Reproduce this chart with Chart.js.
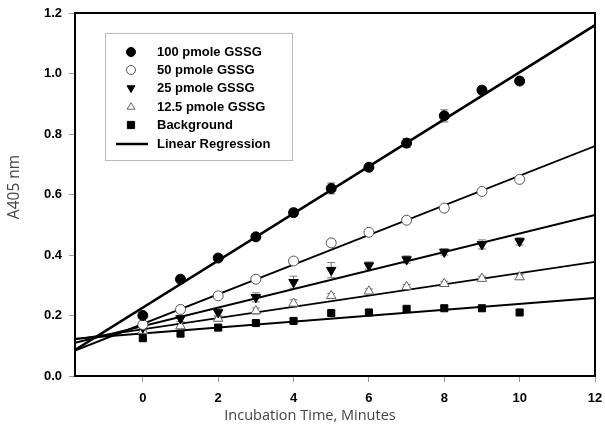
<!DOCTYPE html>
<html>
<head>
<meta charset="utf-8">
<script src="https://cdn.jsdelivr.net/npm/chart.js@4.4.1/dist/chart.umd.min.js"></script>
<style>
  html, body { margin: 0; padding: 0; background: #fff; }
  #wrap { width: 605px; height: 429px; }
</style>
</head>
<body>
<div id="wrap"><canvas id="c"></canvas></div>
<script>
// data
const times = [0, 1, 2, 3, 4, 5, 6, 7, 8, 9, 10];
const seriesNames = ['100 pmole GSSG', '50 pmole GSSG', '25 pmole GSSG', '12.5 pmole GSSG', 'Background'];
const gssg100 = [0.20, 0.32, 0.39, 0.46, 0.54, 0.62, 0.69, 0.77, 0.86, 0.945, 0.975];
const gssg50 = [0.17, 0.22, 0.265, 0.32, 0.38, 0.44, 0.475, 0.515, 0.555, 0.61, 0.65];
const gssg25 = [0.16, 0.19, 0.21, 0.26, 0.31, 0.35, 0.365, 0.385, 0.41, 0.435, 0.445];
const gssg12 = [0.15, 0.165, 0.19, 0.215, 0.24, 0.265, 0.28, 0.295, 0.305, 0.322, 0.327];
const background = [0.125, 0.14, 0.16, 0.175, 0.182, 0.208, 0.21, 0.222, 0.224, 0.224, 0.21];
const err100 = [0.01, 0.012, 0.01, 0.01, 0.012, 0.018, 0.012, 0.015, 0.02, 0.012, 0.01];
const err50 = [0.008, 0.008, 0.008, 0.008, 0.01, 0.008, 0.008, 0.008, 0.008, 0.008, 0.008];
const err25 = [0.01, 0.01, 0.012, 0.015, 0.02, 0.025, 0.012, 0.012, 0.01, 0.015, 0.012];
const err12 = [0.008, 0.008, 0.008, 0.01, 0.012, 0.008, 0.008, 0.008, 0.008, 0.008, 0.008];
const errBg = [0.008, 0.008, 0.008, 0.008, 0.008, 0.008, 0.008, 0.008, 0.008, 0.008, 0.008];
// regression lines, end values read at x = -1.8 and x = 12
const regX = [-1.8, 12];
const reg100 = [0.086, 1.16];
const reg50 = [0.084, 0.76];
const reg25 = [0.11, 0.532];
const reg12 = [0.121, 0.377];
const regBg = [0.123, 0.258];
const xTicks = [0, 2, 4, 6, 8, 10, 12];

const toPts = (xs, ys) => xs.map((x, i) => ({x: x, y: ys[i]}));

const markers = [
  {style: 'circle', fill: '#000', stroke: '#000', rot: 0, r: 5},
  {style: 'circle', fill: '#fff', stroke: '#555', rot: 0, r: 5},
  {style: 'triangle', fill: '#000', stroke: '#000', rot: 180, r: 5.5},
  {style: 'triangle', fill: '#fff', stroke: '#666', rot: 0, r: 5.5},
  {style: 'rect', fill: '#000', stroke: '#000', rot: 0, r: 5}
];
const pointSets = [gssg100, gssg50, gssg25, gssg12, background];
const errSets = [err100, err50, err25, err12, errBg];
const regSets = [reg100, reg50, reg25, reg12, regBg];
const regWidths = [2.6, 1.8, 2, 1.8, 2];

const datasets = [];
regSets.forEach((r, i) => {
  datasets.push({
    type: 'line', data: toPts(regX, r), borderColor: '#000', borderWidth: regWidths[i],
    pointRadius: 0, fill: false, order: 2
  });
});
pointSets.forEach((s, i) => {
  const m = markers[i];
  datasets.push({
    type: 'scatter', label: seriesNames[i], data: toPts(times, s), errors: errSets[i],
    pointStyle: m.style, pointRotation: m.rot, pointRadius: m.r,
    pointBackgroundColor: m.fill, pointBorderColor: m.stroke, pointBorderWidth: 1, order: 1
  });
});

function drawMarker(ctx, m, x, y, r) {
  ctx.save();
  ctx.fillStyle = m.fill; ctx.strokeStyle = m.stroke; ctx.lineWidth = 1;
  ctx.beginPath();
  if (m.style === 'circle') {
    ctx.arc(x, y, r, 0, Math.PI * 2);
  } else if (m.style === 'rect') {
    ctx.rect(x - r * 0.8, y - r * 0.8, r * 1.6, r * 1.6);
  } else {
    const d = m.rot === 180 ? -1 : 1;
    ctx.moveTo(x, y - d * r);
    ctx.lineTo(x - r * 0.87, y + d * r * 0.5);
    ctx.lineTo(x + r * 0.87, y + d * r * 0.5);
    ctx.closePath();
  }
  ctx.fill(); ctx.stroke();
  ctx.restore();
}

const errorBars = {
  id: 'errorBars',
  beforeDatasetsDraw(chart) {
    const ctx = chart.ctx, xs = chart.scales.x, ys = chart.scales.y;
    ctx.save();
    ctx.strokeStyle = '#777'; ctx.lineWidth = 1;
    chart.data.datasets.forEach(ds => {
      if (!ds.errors) return;
      ds.data.forEach((p, i) => {
        const px = xs.getPixelForValue(p.x);
        const top = ys.getPixelForValue(p.y + ds.errors[i]);
        const bot = ys.getPixelForValue(p.y - ds.errors[i]);
        ctx.beginPath();
        ctx.moveTo(px, top); ctx.lineTo(px, bot);
        ctx.moveTo(px - 4, top); ctx.lineTo(px + 4, top);
        ctx.moveTo(px - 4, bot); ctx.lineTo(px + 4, bot);
        ctx.stroke();
      });
    });
    ctx.restore();
  }
};

const frameAndLegend = {
  id: 'frameAndLegend',
  afterDraw(chart) {
    const ctx = chart.ctx, a = chart.chartArea;
    ctx.save();
    ctx.strokeStyle = '#000'; ctx.lineWidth = 2;
    ctx.beginPath();
    ctx.moveTo(a.left, a.top); ctx.lineTo(a.right, a.top); ctx.lineTo(a.right, a.bottom);
    ctx.stroke();

    // axis titles
    ctx.fillStyle = '#444';
    ctx.font = '14.5px "Open Sans", sans-serif';
    ctx.textAlign = 'center'; ctx.textBaseline = 'middle';
    ctx.fillText('Incubation Time, Minutes', 310, 416);
    ctx.save();
    ctx.font = '15.5px "Open Sans", sans-serif';
    ctx.translate(15, 187); ctx.rotate(-Math.PI / 2);
    ctx.fillText('A405 nm', 0, 0);
    ctx.restore();

    // legend box
    ctx.strokeStyle = '#bbb'; ctx.lineWidth = 1;
    ctx.strokeRect(105.5, 33.5, 187, 127);
    ctx.font = 'bold 13px "Liberation Sans", Arial, sans-serif';
    ctx.fillStyle = '#000'; ctx.textBaseline = 'middle'; ctx.textAlign = 'left';
    const rows = [52, 70, 88, 107, 125, 144];
    seriesNames.forEach((n, i) => {
      drawMarker(ctx, markers[i], 131, rows[i], 4.5);
      ctx.fillText(n, 157, rows[i]);
    });
    ctx.lineWidth = 2.5; ctx.strokeStyle = '#000';
    ctx.beginPath(); ctx.moveTo(116, rows[5]); ctx.lineTo(148, rows[5]); ctx.stroke();
    ctx.fillText('Linear Regression', 157, rows[5]);
    ctx.restore();
  }
};

const tickFont = {family: '"Liberation Sans", Arial, sans-serif', size: 13, weight: 'bold'};

new Chart(document.getElementById('c'), {
  type: 'scatter',
  data: {datasets: datasets},
  plugins: [errorBars, frameAndLegend],
  options: {
    responsive: true, maintainAspectRatio: false, animation: false,
    layout: {padding: {top: 13, right: 10, left: 0, bottom: 0}},
    plugins: {legend: {display: false}, tooltip: {enabled: false}},
    scales: {
      x: {
        type: 'linear', min: -1.8, max: 12,
        afterBuildTicks: s => { s.ticks = xTicks.map(v => ({value: v})); },
        afterFit: s => { s.height = 53; s.paddingLeft = 0; s.paddingRight = 0; },
        grid: {drawOnChartArea: false, tickLength: 6, tickColor: '#999', tickWidth: 1},
        border: {color: '#000', width: 2},
        ticks: {color: '#000', font: tickFont, padding: 9, maxRotation: 0}
      },
      y: {
        type: 'linear', min: 0, max: 1.2,
        afterFit: s => { s.width = 75; s.paddingTop = 0; s.paddingBottom = 0; },
        grid: {drawOnChartArea: false, tickLength: 6, tickColor: '#999', tickWidth: 1},
        border: {color: '#000', width: 2},
        ticks: {stepSize: 0.2, color: '#000', font: tickFont, padding: 7, callback: v => v.toFixed(1)}
      }
    }
  }
});
</script>
</body>
</html>
